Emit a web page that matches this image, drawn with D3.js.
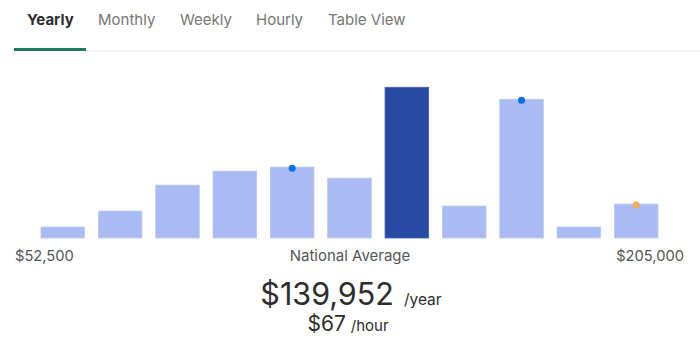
<!DOCTYPE html>
<meta charset="utf-8">
<script src="https://d3js.org/d3.v7.min.js"></script>
<style>
  body { margin: 0; background: #fff; }
  svg text { font-family: Inter, "Liberation Sans", sans-serif; }
</style>
<div id="chart"></div>
<script>
// tabs across the top
var tabs = ["Yearly", "Monthly", "Weekly", "Hourly", "Table View"];
var tabX = [27, 98, 180, 256, 328];

// salary histogram bins (bar heights)
var bins = ["b1", "b2", "b3", "b4", "b5", "b6", "b7", "b8", "b9", "b10", "b11"];
var counts = [11, 27, 53, 67, 71, 60, 151, 32, 139, 11, 34];
var averageBin = "b7";

// dots sitting on top of some bars
var markerBins = ["b5", "b9", "b11"];
var markerColors = ["#0b6ee6", "#0b6ee6", "#f7a95c"];

// axis and summary text
var minLabel = "$52,500";
var maxLabel = "$205,000";
var midLabel = "National Average";
var yearly = "$139,952";
var hourly = "$67";

var width = 700, height = 343;

var svg = d3.select("#chart")
  .append("svg")
    .attr("width", width)
    .attr("height", height);

svg.append("rect").attr("width", width).attr("height", height).attr("fill", "#fff");

// tab strip
svg.append("rect")
  .attr("x", 86).attr("y", 50.5).attr("width", width - 86).attr("height", 1)
  .attr("fill", "#ececec");
svg.append("rect")
  .attr("x", 14).attr("y", 48).attr("width", 72).attr("height", 3)
  .attr("fill", "#217a5e");

svg.selectAll(".tab")
  .data(tabs)
  .enter()
  .append("text")
    .attr("class", "tab")
    .attr("x", function(d, i) { return tabX[i]; })
    .attr("y", 25)
    .attr("font-size", "15px")
    .attr("font-weight", function(d, i) { return i == 0 ? 700 : 400; })
    .attr("fill", function(d, i) { return i == 0 ? "#2d2d2d" : "#767676"; })
    .text(function(d) { return d; });

// bars
var x = d3.scaleBand()
  .domain(bins)
  .range([41, 658])
  .paddingInner(0.24)
  .paddingOuter(0);

var y = d3.scaleLinear()
  .domain([0, d3.max(counts)])
  .range([238, 87.3]);

svg.selectAll(".bar")
  .data(bins)
  .enter()
  .append("rect")
    .attr("class", "bar")
    .attr("x", function(d) { return x(d); })
    .attr("y", function(d, i) { return y(counts[i]); })
    .attr("width", x.bandwidth())
    .attr("height", function(d, i) { return y(0) - y(counts[i]); })
    .attr("fill", function(d) { return d == averageBin ? "#2649a1" : "#a9bbf2"; })
    .attr("stroke", function(d) { return d == averageBin ? "#3d5fb8" : "#b9c8f5"; })
    .attr("stroke-width", 0.8);

svg.selectAll(".marker")
  .data(markerBins)
  .enter()
  .append("circle")
    .attr("class", "marker")
    .attr("cx", function(d) { return x(d) + x.bandwidth() / 2; })
    .attr("cy", function(d) { return y(counts[bins.indexOf(d)]) + 1; })
    .attr("r", 3.5)
    .attr("fill", function(d, i) { return markerColors[i]; });

// labels under the bars
svg.append("text")
  .attr("x", 15).attr("y", 261)
  .attr("font-size", "14.7px").attr("fill", "#555")
  .text(minLabel);
svg.append("text")
  .attr("x", 684).attr("y", 261)
  .attr("text-anchor", "end")
  .attr("font-size", "14.7px").attr("fill", "#555")
  .text(maxLabel);
svg.append("text")
  .attr("x", 350).attr("y", 261)
  .attr("text-anchor", "middle")
  .attr("font-size", "15px").attr("fill", "#555")
  .text(midLabel);

// summary figures
var big = svg.append("text")
  .attr("x", 351).attr("y", 305)
  .attr("text-anchor", "middle")
  .attr("fill", "#2d2d2d");
big.append("tspan").attr("font-size", "30.5px").text(yearly);
big.append("tspan").attr("font-size", "15.5px").attr("dx", 10).text("/year");

var small = svg.append("text")
  .attr("x", 348).attr("y", 331)
  .attr("text-anchor", "middle")
  .attr("fill", "#2d2d2d");
small.append("tspan").attr("font-size", "21px").text(hourly);
small.append("tspan").attr("font-size", "15px").attr("dx", 5).text("/hour");
</script>
